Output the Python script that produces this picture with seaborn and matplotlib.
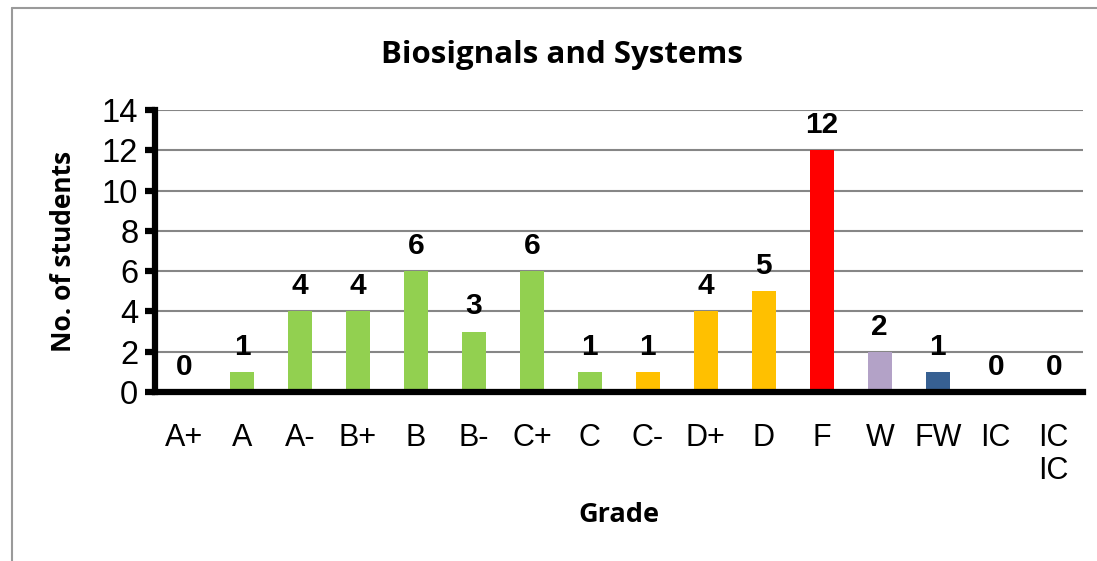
import seaborn as sns
import matplotlib.pyplot as plt
import pandas as pd
import numpy as np

# data
grades = ['A+', 'A', 'A-', 'B+', 'B', 'B-', 'C+', 'C', 'C-', 'D+', 'D', 'F', 'W', 'FW', 'IC', 'IC\nIC']
students = [0, 1, 4, 4, 6, 3, 6, 1, 1, 4, 5, 12, 2, 1, 0, 0]
bar_colors = ['#92D050'] * 8 + ['#FFC000'] * 3 + ['#FF0000', '#B3A2C7', '#376092', '#376092', '#376092']

df = pd.DataFrame({'grade': grades, 'students': students})

sns.set_style('white')
plt.rcParams['font.family'] = ['Liberation Sans', 'DejaVu Sans']
plt.rcParams['text.color'] = 'black'
plt.rcParams['axes.labelcolor'] = 'black'
plt.rcParams['xtick.color'] = 'black'
plt.rcParams['ytick.color'] = 'black'

fig = plt.figure(figsize=(10.97, 5.61), dpi=100)
ax = fig.add_axes([0.1413, 0.3012, 0.8457, 0.5028])

sns.barplot(df, x='grade', y='students', hue='grade', palette=bar_colors,
            legend=False, width=0.41, saturation=1, linewidth=0, ax=ax)

ax.set_ylim(0, 14)
ax.set_xlim(-0.5, len(grades) - 0.5)
ax.set_yticks(range(0, 15, 2))
ax.yaxis.grid(True, color='#868686', linewidth=1.5)
ax.set_axisbelow(True)

# value labels
for i, v in enumerate(students):
    ax.annotate(str(v), (i, v), xytext=(0, 8), textcoords='offset points',
                ha='center', va='bottom', fontsize=21.5, fontweight='bold', color='black')

# spines and ticks
for s in ['top', 'right']:
    ax.spines[s].set_visible(False)
for s in ['left', 'bottom']:
    ax.spines[s].set_linewidth(4.5)
    ax.spines[s].set_color('black')

ax.set_xticks(np.arange(len(grades)))
ax.set_xticklabels(grades, fontsize=22, linespacing=1.15, va='top')
ax.tick_params(axis='x', which='major', length=0, pad=22)
ax.set_xticks(np.arange(-0.5, len(grades)), minor=True)
ax.tick_params(axis='x', which='minor', length=7, width=4.5, color='black', direction='out')
ax.tick_params(axis='y', labelsize=23.5, length=7, width=4.5, color='black', direction='out', pad=5, left=True)

ax.set_xlabel('Grade', fontsize=19.5, fontweight='bold', va='center',
              family=['Open Sans', 'DejaVu Sans'])
ax.set_ylabel('No. of students', fontsize=19, fontweight='bold', va='center',
              family=['Open Sans', 'DejaVu Sans'])
ax.xaxis.set_label_coords(0.5, -0.436)
ax.yaxis.set_label_coords(-0.099, 0.5)
fig.text(0.512, 0.902, 'Biosignals and Systems', ha='center', va='center',
         fontsize=22.5, fontweight='bold', family=['Open Sans', 'DejaVu Sans'])

# chart area border (left and top)
fig.add_artist(plt.Line2D([0.011, 0.011], [0.0, 0.986], color='#9a9a9a', linewidth=1.5))
fig.add_artist(plt.Line2D([0.011, 1.0], [0.986, 0.986], color='#9a9a9a', linewidth=1.5))

fig.savefig('out.png', dpi=100)
